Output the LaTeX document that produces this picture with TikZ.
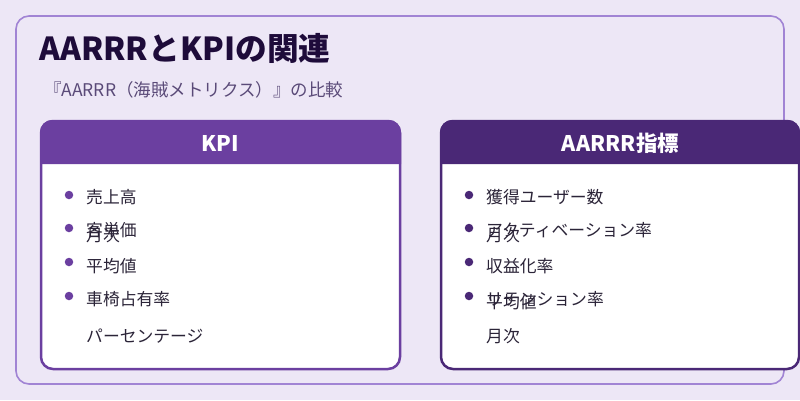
\documentclass[tikz,border=0pt]{standalone}
\usepackage{fontspec}
\setmainfont{Noto Sans CJK JP}
\definecolor{bgc}{HTML}{EDE7F6}
\definecolor{framec}{HTML}{A184D4}
\definecolor{titlec}{HTML}{1E0B3A}
\definecolor{subc}{HTML}{5A4A78}
\definecolor{kpic}{HTML}{6B3FA0}
\definecolor{aarc}{HTML}{4A2876}
\definecolor{txtc}{HTML}{2B2438}
\tikzset{
  item/.style={anchor=west, inner sep=0pt, text=txtc, font=\fontsize{16.8}{19}\selectfont},
  headtxt/.style={inner sep=0pt, text=white, font=\fontsize{21.5}{25}\selectfont\bfseries},
  kbul/.style={circle, fill=kpic, inner sep=0pt, minimum size=8.5pt},
  abul/.style={circle, fill=aarc, inner sep=0pt, minimum size=8.5pt},
}
\begin{document}
\begin{tikzpicture}[x=1pt,y=-1pt]
\fill[bgc] (0,0) rectangle (800,400);
\useasboundingbox (0,0) rectangle (800,400);
% outer frame
\draw[framec, line width=1.6, rounded corners=13] (16,16) rectangle (784,384);
% title
\node[anchor=base west, inner sep=0pt, text=titlec, font=\fontsize{31.7}{36}\selectfont\bfseries] (title) at (39,60) {AARRRとKPIの関連};
\node[anchor=base west, inner sep=0pt, text=subc, font=\fontsize{17.5}{21}\selectfont] (sub) at (44,96) {『AARRR（海賊メトリクス）』の比較};
% left card
\draw[kpic, line width=2.5, fill=white, rounded corners=12] (41,121) rectangle (400,369);
\fill[kpic] (40,164) [rounded corners=12]-- (40,120) -- (401,120) [sharp corners]-- (401,164) -- cycle;
\node[headtxt] (kpih) at (220.5,143) {KPI};
% right card
\draw[aarc, line width=2.5, fill=white, rounded corners=12] (441,121) rectangle (799,369);
\fill[aarc] (440,164) [rounded corners=12]-- (440,120) -- (800,120) [sharp corners]-- (800,164) -- cycle;
\node[headtxt] (aarh) at (620.5,143) {AARRR指標};
% left list
\node[kbul] (kb1) at (69,195) {};
\node[kbul] (kb2) at (69,228) {};
\node[kbul] (kb3) at (69,262) {};
\node[kbul] (kb4) at (69,296) {};
\node[item] (k1) at (86,197) {売上高};
\node[item] (k2) at (86,230) {客単価};
\node[item] (k2b) at (86,235) {月次};
\node[item] (k3) at (86,266) {平均値};
\node[item] (k4) at (86,299) {車椅占有率};
\node[item] (k5) at (86,336) {パーセンテージ};
% right list
\node[abul] (ab1) at (469,195) {};
\node[abul] (ab2) at (469,228) {};
\node[abul] (ab3) at (469,262) {};
\node[abul] (ab4) at (469,296) {};
\node[item] (a1) at (486,197) {獲得ユーザー数};
\node[item] (a2) at (486,230) {アクティベーション率};
\node[item] (a2b) at (486,235) {月次};
\node[item] (a3) at (486,266) {収益化率};
\node[item] (a4) at (486,299) {リテンション率};
\node[item] (a4b) at (486,302) {平均値};
\node[item] (a5) at (486,336) {月次};
\end{tikzpicture}
\end{document}
